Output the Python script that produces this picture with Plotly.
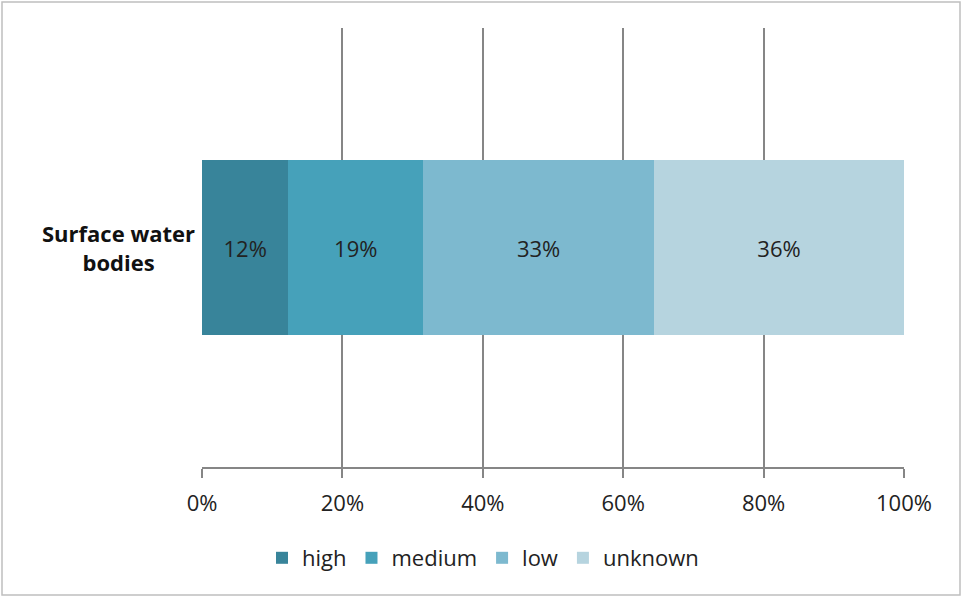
import plotly.graph_objects as go

categories = ["Surface water<br>bodies"]
series_names = ["high", "medium", "low", "unknown"]
series_values = [[12.3], [19.2], [32.9], [35.6]]
series_colors = ["#38849A", "#46A1BA", "#7DB9CF", "#B6D4DF"]
x_ticks = [0, 20, 40, 60, 80, 100]
x_tick_labels = ["0%", "20%", "40%", "60%", "80%", "100%"]

FONT = "Open Sans"

fig = go.Figure()
for name, vals, col in zip(series_names, series_values, series_colors):
    fig.add_trace(go.Bar(
        y=categories, x=vals, name=name, orientation="h",
        marker=dict(color=col, line=dict(width=0)),
        texttemplate="%{x:.0f}%", textposition="inside",
        insidetextanchor="middle",
        textfont=dict(family=FONT, size=22, color="#222222"),
    ))

W, H = 963, 598
L, R, T, B = 202, 59, 28, 131
pw, ph = W - L - R, H - T - B

fig.update_layout(
    width=W, height=H,
    margin=dict(l=L, r=R, t=T, b=B),
    barmode="stack", bargap=0.6,
    plot_bgcolor="white", paper_bgcolor="white",
    font=dict(family=FONT, size=22, color="#222222"),
    xaxis=dict(range=[0, 100], tickvals=x_ticks, ticktext=x_tick_labels,
               showgrid=True, gridcolor="#868686", gridwidth=2,
               showline=True, linecolor="#868686", linewidth=2,
               ticks="outside", ticklen=9, tickwidth=2, tickcolor="#868686",
               ticklabelstandoff=7,
               zeroline=False, tickfont=dict(family=FONT, size=22, color="#222222")),
    yaxis=dict(showticklabels=False, showgrid=False, zeroline=False,
               showline=False, range=[-0.5, 0.5]),
    showlegend=True,
    legend=dict(orientation="h", x=(483 - L) / pw, xanchor="center",
                y=(T + ph - 558) / ph, yanchor="middle",
                font=dict(family=FONT, size=22, color="#222222"),
                traceorder="normal"),
    annotations=[dict(x=(118 - L) / pw, xref="paper", y=categories[0], yref="y",
                      text="<b>" + categories[0] + "</b>", showarrow=False,
                      align="center", xanchor="center", yanchor="middle",
                      font=dict(family=FONT, size=22, color="#111111"))],
    shapes=[dict(type="rect", xref="paper", yref="paper",
                 x0=(2 - L) / pw, x1=(960 - L) / pw,
                 y0=(T + ph - 595) / ph, y1=(T + ph - 2) / ph,
                 line=dict(color="#BFBFBF", width=1.5), layer="below")],
)

fig.write_html("out.html", config={"displayModeBar": False},
               post_script="document.body.style.margin='0';document.body.style.padding='0';")
